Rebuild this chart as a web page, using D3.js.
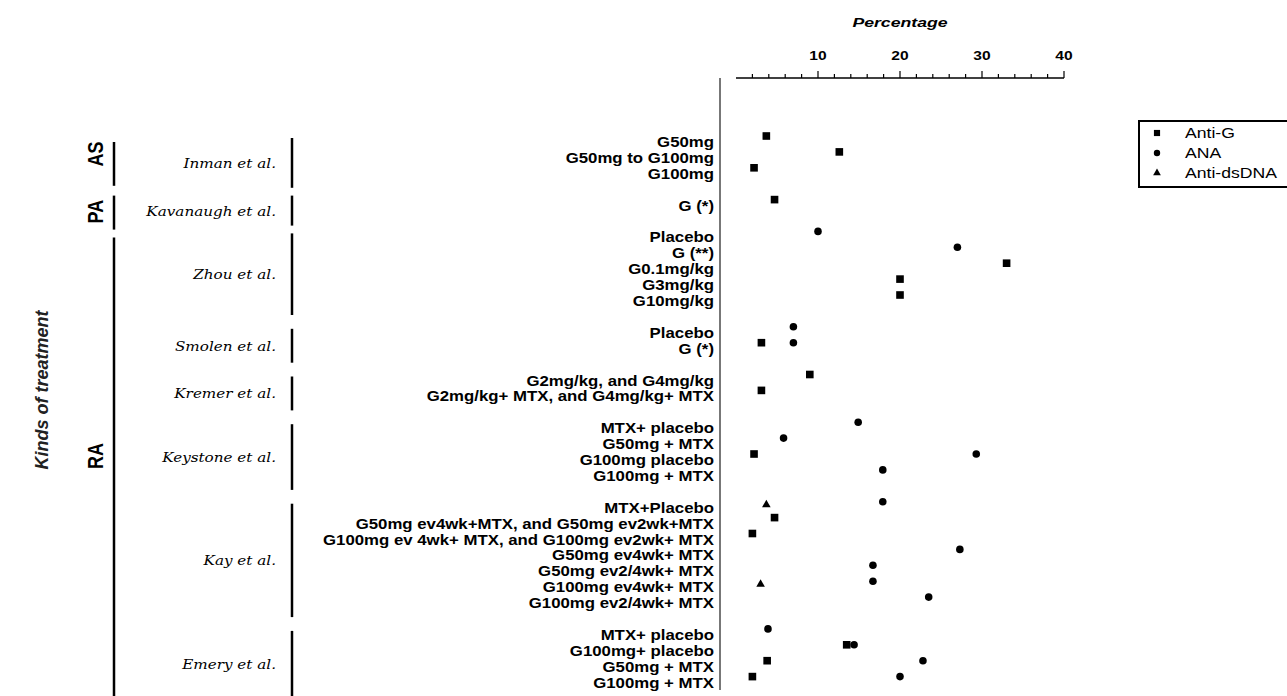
<!DOCTYPE html>
<body style="margin:0;background:#fff">
<meta charset="utf-8">
<script src="https://d3js.org/d3.v7.min.js"></script>
<div id="chart"></div>
<script>
// treatments, one per row; blank rows separate the studies
var treatments = ["G50mg", "G50mg to G100mg", "G100mg", "",
  "G (*)", "",
  "Placebo", "G (**)", "G0.1mg/kg", "G3mg/kg", "G10mg/kg", "",
  "Placebo", "G (*)", "",
  "G2mg/kg, and G4mg/kg", "G2mg/kg+ MTX, and G4mg/kg+ MTX", "",
  "MTX+ placebo", "G50mg + MTX", "G100mg placebo", "G100mg + MTX", "",
  "MTX+Placebo", "G50mg ev4wk+MTX, and G50mg ev2wk+MTX", "G100mg ev 4wk+ MTX, and G100mg ev2wk+ MTX",
  "G50mg ev4wk+ MTX", "G50mg ev2/4wk+ MTX", "G100mg ev4wk+ MTX", "G100mg ev2/4wk+ MTX", "",
  "MTX+ placebo", "G100mg+ placebo", "G50mg + MTX", "G100mg + MTX"];

// studies: name, first row, last row
var studies = [["Inman et al.", 0, 2], ["Kavanaugh et al.", 4, 4], ["Zhou et al.", 6, 10],
  ["Smolen et al.", 12, 13], ["Kremer et al.", 15, 16], ["Keystone et al.", 18, 21],
  ["Kay et al.", 23, 29], ["Emery et al.", 31, 34]];

var diseases = [["AS", 0, 2], ["PA", 4, 4], ["RA", 6, 34]];

// percentage values: [row, value]
var antiG = [[0, 3.7], [1, 12.6], [2, 2.2], [4, 4.7], [8, 33.0], [9, 20.0], [10, 20.0],
  [13, 3.1], [15, 9.0], [16, 3.1], [20, 2.2], [24, 4.7], [25, 2.0],
  [32, 13.5], [33, 3.8], [34, 2.0]];
var ana = [[6, 10.0], [7, 27.0], [12, 7.0], [13, 7.0], [18, 14.9], [19, 5.8], [20, 29.3],
  [21, 17.9], [23, 17.9], [26, 27.3], [27, 16.7], [28, 16.7], [29, 23.5],
  [31, 3.9], [32, 14.4], [33, 22.8], [34, 20.0]];
var antiDsDNA = [[23, 3.7], [28, 3.0]];

var seriesNames = ["Anti-G", "ANA", "Anti-dsDNA"];
var xTicks = [10, 20, 30, 40];

var W = 1287, H = 696;
var svg = d3.select("#chart").append("svg")
  .attr("width", W).attr("height", H)
  .style("font-family", "Arial, 'Liberation Sans', sans-serif");

var x = d3.scaleLinear().domain([0, 40]).range([736, 1064]);
var y = d3.scaleLinear().domain([0, 34]).range([136, 676.6]);

// the source figure is stretched sideways, so texts get a horizontal scale
function tr(px, py, sx) { return "translate(" + px + "," + py + ") scale(" + sx + ",1)"; }

// top axis
var axis = svg.append("g").attr("transform", "translate(0,78)");
axis.append("line").attr("x1", x(0)).attr("x2", x(40)).attr("stroke", "#000").attr("stroke-width", 1.3);
axis.selectAll(".tk").data(d3.range(2, 41, 2)).enter().append("line")
  .attr("x1", d => x(d)).attr("x2", d => x(d))
  .attr("y1", 0).attr("y2", d => d % 10 === 0 ? -7 : -4)
  .attr("stroke", "#000").attr("stroke-width", 1.2);
axis.selectAll(".lb").data(xTicks).enter().append("text")
  .attr("transform", d => tr(x(d), -18.5, 1.3))
  .attr("text-anchor", "middle").style("font-size", "12px").style("font-weight", "bold")
  .text(d => d);
svg.append("text").attr("transform", tr(x(20), 27, 1.36)).attr("text-anchor", "middle")
  .style("font-size", "13px").style("font-weight", "bold").style("font-style", "italic")
  .text("Percentage");

// vertical axis line
svg.append("line").attr("x1", 720).attr("x2", 720).attr("y1", 78).attr("y2", 690)
  .attr("stroke", "#777").attr("stroke-width", 2);

// treatment labels
svg.append("g").selectAll("text").data(treatments).enter().append("text")
  .attr("transform", (d, i) => tr(714, y(i) + 11, 1.2))
  .attr("text-anchor", "end").style("font-size", "14px").style("font-weight", "bold")
  .text(d => d);

// study labels and brackets
var st = svg.append("g");
studies.forEach(function (s) {
  var top = y(s[1]) + 2, bot = y(s[2]) + 20;
  if (s[1] === s[2]) { top = y(s[1]) - 4; bot = y(s[1]) + 26; }
  st.append("line").attr("x1", 292).attr("x2", 292).attr("y1", top).attr("y2", bot)
    .attr("stroke", "#000").attr("stroke-width", 2.5);
  st.append("text").attr("transform", tr(276, (top + bot) / 2 + 5, 1.17))
    .attr("text-anchor", "end")
    .style("font-family", "'Palatino Linotype', 'DejaVu Serif', serif")
    .style("font-style", "italic").style("font-size", "13px")
    .text(s[0]);
});

// disease labels and brackets
var ds = svg.append("g");
diseases.forEach(function (s) {
  var top = y(s[1]) + 6, bot = s[0] === "RA" ? H : y(s[2]) + 18;
  if (s[1] === s[2]) { top = y(s[1]) - 4; bot = y(s[1]) + 30; }
  ds.append("line").attr("x1", 114).attr("x2", 114).attr("y1", top).attr("y2", bot)
    .attr("stroke", "#000").attr("stroke-width", 2.5);
  var cy = (y(s[1]) + y(s[2])) / 2 + (s[1] === s[2] ? 12 : 2);
  ds.append("text").attr("transform", "translate(103," + cy + ") rotate(-90) scale(1,1.2)")
    .attr("text-anchor", "middle").style("font-size", "18px").style("font-weight", "bold")
    .text(s[0]);
});

svg.append("text").attr("transform", "translate(48,390) rotate(-90)")
  .attr("text-anchor", "middle").style("font-size", "18px").style("font-style", "italic")
  .style("font-weight", "bold").attr("fill", "#222").text("Kinds of treatment");

// markers
var shapes = [d3.symbolSquare, d3.symbolCircle, d3.symbolTriangle];
var sizes = [58, 45, 32];
var shiftY = [0, 0, 3];
[antiG, ana, antiDsDNA].forEach(function (data, k) {
  svg.append("g").selectAll("path").data(data).enter().append("path")
    .attr("d", d3.symbol().type(shapes[k]).size(sizes[k]))
    .attr("transform", d => "translate(" + x(d[1]) + "," + (y(d[0]) + shiftY[k]) + ")")
    .attr("fill", "#000");
});

// legend
var lg = svg.append("g");
lg.append("rect").attr("x", 1139).attr("y", 121).attr("width", 152).attr("height", 66)
  .attr("fill", "none").attr("stroke", "#000").attr("stroke-width", 2);
seriesNames.forEach(function (n, k) {
  var ly = 133 + k * 20;
  lg.append("path").attr("d", d3.symbol().type(shapes[k]).size([38, 32, 26][k])())
    .attr("transform", "translate(1157," + ly + ")").attr("fill", "#000");
  lg.append("text").attr("transform", tr(1185, ly + 5, 1.26)).style("font-size", "14px").text(n);
});
</script>
</body>
